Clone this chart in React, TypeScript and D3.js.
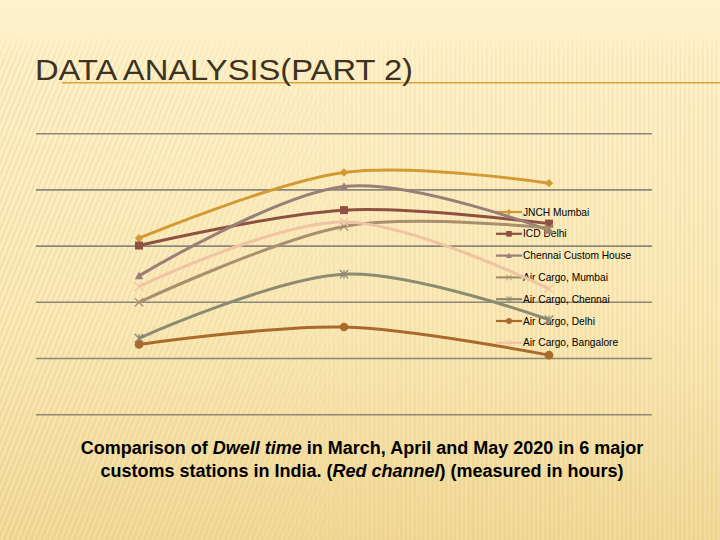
import React from "react";
import * as d3 from "d3";

// ---- data ----
const months = ["March", "April", "May"];
const seriesNames = [
  "JNCH Mumbai",
  "ICD Delhi",
  "Chennai Custom House",
  "Air Cargo, Mumbai",
  "Air Cargo, Chennai",
  "Air Cargo, Delhi",
  "Air Cargo, Bangalore",
];
const jnchMumbai = [31.4, 43.1, 41.2];
const icdDelhi = [30.1, 36.4, 34.0];
const chennaiCustomHouse = [24.7, 40.6, 32.8];
const airCargoMumbai = [20.0, 33.5, 33.2];
const airCargoChennai = [13.6, 25.0, 16.9];
const airCargoDelhi = [12.5, 15.6, 10.6];
const airCargoBangalore = [22.8, 34.3, 22.4];
const gridTicks = [0, 10, 20, 30, 40, 50];

const seriesValues = [
  jnchMumbai,
  icdDelhi,
  chennaiCustomHouse,
  airCargoMumbai,
  airCargoChennai,
  airCargoDelhi,
  airCargoBangalore,
];

// ---- styles ----
const colors = ["#D39A34", "#8E5040", "#9A7E78", "#A8906E", "#8C8A70", "#A96A2C", "#F0C4A2"];
const markerTypes = ["diamond", "square", "triangle", "x", "star", "circle", "x"];

const W = 720;
const H = 540;

function Marker({ type, x, y, color }: { type: string; x: number; y: number; color: string }) {
  const s = 4.2;
  switch (type) {
    case "diamond":
      return <path d={`M${x},${y - s}L${x + s},${y}L${x},${y + s}L${x - s},${y}Z`} fill={color} />;
    case "square":
      return <rect x={x - 4} y={y - 4} width={8} height={8} fill={color} />;
    case "triangle":
      return <path d={`M${x},${y - s}L${x + s},${y + s * 0.8}L${x - s},${y + s * 0.8}Z`} fill={color} />;
    case "x":
      return (
        <path d={`M${x - s},${y - s}L${x + s},${y + s}M${x - s},${y + s}L${x + s},${y - s}`} stroke={color} strokeWidth={1.3} fill="none" />
      );
    case "star":
      return (
        <path
          d={`M${x - s},${y - s}L${x + s},${y + s}M${x - s},${y + s}L${x + s},${y - s}M${x},${y - s}L${x},${y + s}`}
          stroke={color}
          strokeWidth={1.3}
          fill="none"
        />
      );
    case "circle":
      return <circle cx={x} cy={y} r={4.3} fill={color} />;
    default:
      return null;
  }
}

export default function App() {
  const x = d3.scalePoint<string>().domain(months).range([36.5, 651.5]).padding(0.5);
  const y = d3.scaleLinear().domain([0, 50]).range([414.7, 133.7]);
  const line = d3
    .line<number>()
    .x((_, i) => x(months[i]) as number)
    .y((d) => y(d))
    .curve(d3.curveCatmullRom.alpha(0));

  const legendX = 496;
  const legendY0 = 212;
  const legendStep = 21.8;

  return (
    <svg width={W} height={H} style={{ position: "absolute", left: 0, top: 0 }}>
      <defs>
        <linearGradient id="bg" x1="0" y1="0" x2="0" y2="1">
          <stop offset="0" stopColor="#FEF2CD" />
          <stop offset="0.2" stopColor="#FDEFC4" />
          <stop offset="0.6" stopColor="#FAE7B3" />
          <stop offset="1" stopColor="#F0D692" />
        </linearGradient>
        <pattern id="diag" width="5" height="5" patternUnits="userSpaceOnUse" patternTransform="rotate(22)">
          <rect x="0" y="0" width="2" height="5" fill="#E6CB80" opacity="0.3" />
          <rect x="2.5" y="0" width="1.2" height="5" fill="#FFFBEA" opacity="0.35" />
        </pattern>
        <pattern id="vert" width="4.5" height="5" patternUnits="userSpaceOnUse">
          <rect x="0" y="0" width="1.8" height="5" fill="#E6CB80" opacity="0.28" />
          <rect x="2.4" y="0" width="1" height="5" fill="#FFFBEA" opacity="0.3" />
        </pattern>
        <linearGradient id="fadeLeft" x1="0" y1="0" x2="1" y2="0">
          <stop offset="0" stopColor="#fff" stopOpacity="1" />
          <stop offset="0.35" stopColor="#fff" stopOpacity="0.6" />
          <stop offset="0.55" stopColor="#fff" stopOpacity="0" />
        </linearGradient>
        <linearGradient id="fadeRight" x1="0" y1="0" x2="1" y2="0">
          <stop offset="0.3" stopColor="#fff" stopOpacity="0" />
          <stop offset="0.6" stopColor="#fff" stopOpacity="0.8" />
          <stop offset="1" stopColor="#fff" stopOpacity="1" />
        </linearGradient>
        <linearGradient id="fadeTopV" x1="0" y1="0" x2="0" y2="1">
          <stop offset="0" stopColor="#fff" stopOpacity="0" />
          <stop offset="0.06" stopColor="#fff" stopOpacity="1" />
          <stop offset="1" stopColor="#fff" stopOpacity="1" />
        </linearGradient>
        <mask id="mTop">
          <rect x="0" y="30" width={W} height={H} fill="url(#fadeTopV)" />
        </mask>
        <mask id="mDiag">
          <rect x="0" y="30" width={W} height={H} fill="url(#fadeLeft)" />
        </mask>
        <mask id="mVert">
          <rect x="0" y="30" width={W} height={H} fill="url(#fadeRight)" />
        </mask>
      </defs>

      <rect x={0} y={0} width={W} height={H} fill="url(#bg)" />
      <g mask="url(#mTop)">
        <rect x={0} y={30} width={W} height={H - 30} fill="url(#diag)" mask="url(#mDiag)" />
        <rect x={0} y={30} width={W} height={H - 30} fill="url(#vert)" mask="url(#mVert)" />
      </g>

      {/* title */}
      <line x1={62} x2={720} y1={82.7} y2={82.7} stroke="#E2A23E" strokeWidth={1.6} />
      <text
        x={35}
        y={79.5}
        fontFamily="'Liberation Sans Narrow', 'Arial Narrow', 'Liberation Sans', sans-serif"
        fontSize={29}
        fill="#3E3222"
        textLength={378}
        lengthAdjust="spacingAndGlyphs"
      >
        DATA ANALYSIS(PART 2)
      </text>

      {/* gridlines */}
      {gridTicks.map((t) => (
        <line key={t} x1={36} x2={652} y1={y(t)} y2={y(t)} stroke="#8D877A" strokeWidth={1.6} />
      ))}

      {/* legend */}
      {seriesNames.map((name, i) => {
        const ly = legendY0 + i * legendStep;
        return (
          <g key={name}>
            <line x1={legendX} x2={legendX + 26} y1={ly} y2={ly} stroke={colors[i]} strokeWidth={2.2} />
            <g transform={`translate(${legendX + 13},${ly}) scale(0.7) translate(${-(legendX + 13)},${-ly})`}>
              <Marker type={markerTypes[i]} x={legendX + 13} y={ly} color={colors[i]} />
            </g>
            <text
              x={legendX + 27}
              y={ly + 3.6}
              fontFamily="'Liberation Sans', Arial, sans-serif"
              fontSize={10.2}
              fill="#000"
            >
              {name}
            </text>
          </g>
        );
      })}

      {/* series */}
      {seriesValues.map((vals, i) => (
        <g key={seriesNames[i]}>
          <path d={line(vals) as string} fill="none" stroke={colors[i]} strokeWidth={3} strokeLinejoin="round" />
          {vals.map((v, j) => (
            <Marker key={j} type={markerTypes[i]} x={x(months[j]) as number} y={y(v)} color={colors[i]} />
          ))}
        </g>
      ))}

      {/* caption */}
      <text
        x={362}
        y={454.3}
        textAnchor="middle"
        fontFamily="'Liberation Sans', Arial, sans-serif"
        fontSize={18}
        fontWeight="bold"
        fill="#000"
      >
        Comparison of <tspan fontStyle="italic">Dwell time</tspan> in March, April and May 2020 in 6 major
      </text>
      <text
        x={362}
        y={476.7}
        textAnchor="middle"
        fontFamily="'Liberation Sans', Arial, sans-serif"
        fontSize={18}
        fontWeight="bold"
        fill="#000"
      >
        customs stations in India. (<tspan fontStyle="italic">Red channel</tspan>) (measured in hours)
      </text>
    </svg>
  );
}
